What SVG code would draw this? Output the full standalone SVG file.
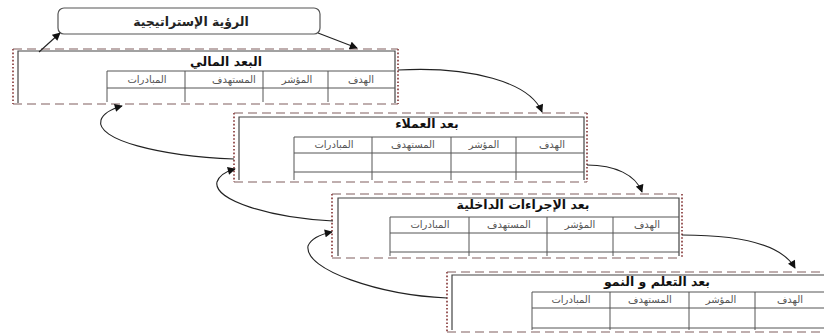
<svg xmlns="http://www.w3.org/2000/svg" width="824" height="334" viewBox="0 0 824 334">
<defs>
<marker id="ah" viewBox="0 0 10 10" refX="9" refY="5" markerWidth="9" markerHeight="8" markerUnits="userSpaceOnUse" orient="auto">
<path d="M0,0 L10,5 L0,10 z" fill="#111"/>
</marker>
<style>
.dash{stroke:#aa9494;stroke-width:1.3;stroke-dasharray:9,5;fill:none}
.dot{stroke:#9a5a5a;stroke-width:2;stroke-dasharray:1.6,2;fill:none}
.inner{stroke:#444;stroke-width:1.2;fill:none}
.grid{stroke:#555;stroke-width:1;fill:none}
.conn{stroke:#222;stroke-width:1.1;fill:none;marker-end:url(#ah)}
.title{font-family:"DejaVu Sans",sans-serif;font-weight:bold;font-size:12.5px;fill:#111;text-anchor:middle}
.hdr{font-family:"DejaVu Sans",sans-serif;font-size:10px;fill:#555;text-anchor:middle}
.vision{font-family:"DejaVu Sans",sans-serif;font-weight:bold;font-size:12.5px;fill:#222;text-anchor:middle}
</style>
</defs>
<rect width="824" height="334" fill="#fff"/>

<g id="vision">
<rect x="58" y="8" width="262" height="26" rx="6" ry="6" fill="#fff" stroke="#555" stroke-width="1.2"/>
<text class="vision" x="191" y="26">الرؤية الإستراتيجية</text>
</g>

<g id="financial">
<line class="dash" x1="13" y1="49" x2="398" y2="49"/>
<line class="dash" x1="13" y1="104" x2="398" y2="104"/>
<line class="dot" x1="13" y1="49" x2="13" y2="104"/>
<line class="dot" x1="398" y1="49" x2="398" y2="104"/>
<polyline class="inner" points="18,103 18,51 395,51 395,103"/>
<text class="title" x="226" y="66">البعد المالي</text>
<polyline class="grid" points="395,71 107,71 107,102"/>
<line class="grid" x1="107" y1="88" x2="395" y2="88"/>
<line class="grid" x1="185" y1="71" x2="185" y2="102"/>
<line class="grid" x1="263" y1="71" x2="263" y2="102"/>
<line class="grid" x1="328" y1="71" x2="328" y2="102"/>
<text class="hdr" x="147" y="83">المبادرات</text>
<text class="hdr" x="234" y="83">المستهدف</text>
<text class="hdr" x="297" y="83">المؤشر</text>
<text class="hdr" x="361" y="83">الهدف</text>
</g>

<g id="customers">
<line class="dash" x1="234" y1="113" x2="587" y2="113"/>
<line class="dash" x1="234" y1="182" x2="587" y2="182"/>
<line class="dot" x1="234" y1="113" x2="234" y2="182"/>
<line class="dot" x1="587" y1="113" x2="587" y2="182"/>
<polyline class="inner" points="239,180 239,117 584,117 584,180"/>
<text class="title" x="427" y="128">بعد العملاء</text>
<polyline class="grid" points="584,137 294,137 294,180"/>
<line class="grid" x1="294" y1="153" x2="584" y2="153"/>
<line class="grid" x1="294" y1="172" x2="584" y2="172"/>
<line class="grid" x1="372" y1="137" x2="372" y2="180"/>
<line class="grid" x1="451" y1="137" x2="451" y2="180"/>
<line class="grid" x1="516" y1="137" x2="516" y2="180"/>
<text class="hdr" x="334" y="148">المبادرات</text>
<text class="hdr" x="413" y="148">المستهدف</text>
<text class="hdr" x="484" y="148">المؤشر</text>
<text class="hdr" x="552" y="148">الهدف</text>
</g>

<g id="internal">
<line class="dash" x1="332" y1="194" x2="682" y2="194"/>
<line class="dash" x1="332" y1="258" x2="682" y2="258"/>
<line class="dot" x1="332" y1="194" x2="332" y2="258"/>
<line class="dot" x1="682" y1="194" x2="682" y2="258"/>
<polyline class="inner" points="338,256 338,198 679,198 679,256"/>
<text class="title" x="523" y="209">بعد الإجراءات الداخلية</text>
<polyline class="grid" points="679,217 390,217 390,256"/>
<line class="grid" x1="390" y1="233" x2="679" y2="233"/>
<line class="grid" x1="390" y1="252" x2="679" y2="252"/>
<line class="grid" x1="469" y1="217" x2="469" y2="256"/>
<line class="grid" x1="547" y1="217" x2="547" y2="256"/>
<line class="grid" x1="613" y1="217" x2="613" y2="256"/>
<text class="hdr" x="430" y="228">المبادرات</text>
<text class="hdr" x="509" y="228">المستهدف</text>
<text class="hdr" x="580" y="228">المؤشر</text>
<text class="hdr" x="647" y="228">الهدف</text>
</g>

<g id="learning">
<line class="dash" x1="447" y1="272" x2="824" y2="272"/>
<line class="dash" x1="447" y1="332" x2="824" y2="332"/>
<line class="dot" x1="447" y1="272" x2="447" y2="332"/>
<polyline class="inner" points="452,330 452,275 824,275"/>
<text class="title" x="657" y="286">بعد التعلم و النمو</text>
<polyline class="grid" points="824,292 532,292 532,330"/>
<line class="grid" x1="532" y1="308" x2="824" y2="308"/>
<line class="grid" x1="532" y1="328" x2="824" y2="328"/>
<line class="grid" x1="610" y1="292" x2="610" y2="330"/>
<line class="grid" x1="689" y1="292" x2="689" y2="330"/>
<line class="grid" x1="755" y1="292" x2="755" y2="330"/>
<text class="hdr" x="571" y="303">المبادرات</text>
<text class="hdr" x="650" y="303">المستهدف</text>
<text class="hdr" x="721" y="303">المؤشر</text>
<text class="hdr" x="790" y="303">الهدف</text>
</g>

<g id="connectors">
<path class="conn" d="M39,52 L60,33"/>
<path class="conn" d="M318,33 L357,48"/>
<path class="conn" d="M398,70 C470,66 530,82 542,112"/>
<path class="conn" d="M587,165 C615,165 636,175 642,192"/>
<path class="conn" d="M682,235 C740,235 782,245 795,268"/>
<path class="conn" d="M234,159 C160,156 95,140 101,120 Q104,111 122,106"/>
<path class="conn" d="M333,221 C270,218 213,200 217,182 Q220,173 235,169"/>
<path class="conn" d="M447,298 C380,295 304,270 308,246 Q312,236 332,232"/>
</g>
</svg>
